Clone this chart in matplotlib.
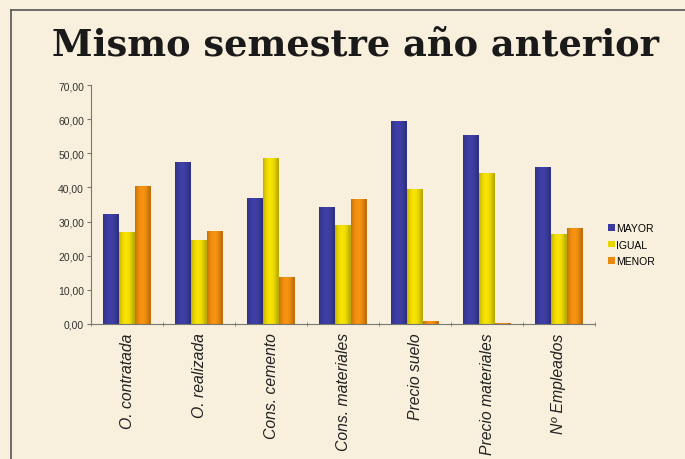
import matplotlib
matplotlib.use("Agg")
import matplotlib.pyplot as plt
import numpy as np
from matplotlib.lines import Line2D
from matplotlib.colors import to_rgb

categories = ["O. contratada", "O. realizada", "Cons. cemento", "Cons. materiales",
              "Precio suelo", "Precio materiales", "Nº Empleados"]
mayor = [32.2, 47.5, 37.0, 34.3, 59.5, 55.5, 45.9]
igual = [27.0, 24.5, 48.6, 29.0, 39.6, 44.2, 26.3]
menor = [40.3, 27.3, 13.8, 36.5, 0.8, 0.3, 28.1]
series_names = ["MAYOR", "IGUAL", "MENOR"]
yticks = [0, 10, 20, 30, 40, 50, 60, 70]

bg = "#f8f0dc"
colors = ["#3b3b9e", "#e8d500", "#e9890e"]

fig = plt.figure(figsize=(6.85, 4.6), dpi=100, facecolor=bg)
ax = fig.add_axes([91/685, 1-325/460, (595-91)/685, (325-86)/460], facecolor=bg)

x = np.arange(len(categories))
w = 0.218
ax.set_xlim(-0.5, len(categories)-0.5)
ax.set_ylim(0, 70)

prof = np.linspace(0, 1, 32)
shade = 0.82 + 0.25*np.sin(np.pi*np.clip(prof*1.1, 0, 1))**0.8
for i, (vals, c, n) in enumerate(zip([mayor, igual, menor], colors, series_names)):
    bars = ax.bar(x + (i-1)*w, vals, width=w, color=c, label=n, edgecolor="none")
    base = np.array(to_rgb(c))
    grad = np.clip(base[None, :]*shade[:, None], 0, 1)[None, :, :]
    for b in bars:
        x0, y0 = b.get_x(), b.get_y()
        im = ax.imshow(grad, extent=[x0, x0+b.get_width(), y0, y0+b.get_height()],
                       aspect="auto", origin="lower", interpolation="bilinear", zorder=b.get_zorder())
        im.set_clip_path(b)

ax.set_xlim(-0.5, len(categories)-0.5)
ax.set_ylim(0, 70)
ax.set_yticks(yticks)
ax.set_yticklabels([f"{v:.2f}".replace(".", ",") for v in yticks],
                   fontsize=7.5, family="Liberation Sans", color="#333333")
ax.set_xticks(x)
ax.set_xticklabels(categories, rotation=90, fontsize=11.3, style="italic",
                   family="Liberation Sans", color="#222222", va="top")
ax.tick_params(axis="x", which="major", length=0, pad=6)
ax.set_xticks(np.arange(-0.5, len(categories), 1.0), minor=True)
ax.tick_params(axis="x", which="minor", length=3, direction="inout", color="#777777")
ax.tick_params(axis="y", length=3, color="#777777", pad=2)
for s in ["top", "right"]:
    ax.spines[s].set_visible(False)
for s in ["left", "bottom"]:
    ax.spines[s].set_color("#777777")
    ax.spines[s].set_linewidth(0.8)

leg = fig.legend(loc="upper left", bbox_to_anchor=(599/685, 1-215/460), frameon=False,
                 prop={"family": "Liberation Sans", "size": 7.5}, handlelength=0.6,
                 handleheight=0.6, handletextpad=0.15, labelspacing=0.6)

fig.text(355/685, 1-45/460, "Mismo semestre año anterior", ha="center", va="center",
         fontsize=26.5, fontweight="bold", family="DejaVu Serif", color="#1a1a1a")

fig.add_artist(Line2D([11/685, 1], [1-11/460, 1-11/460], color="#555555", lw=1.2,
                      transform=fig.transFigure))
fig.add_artist(Line2D([11/685, 11/685], [0, 1-11/460], color="#555555", lw=1.2,
                      transform=fig.transFigure))

fig.savefig("out.png", dpi=100, facecolor=bg)
